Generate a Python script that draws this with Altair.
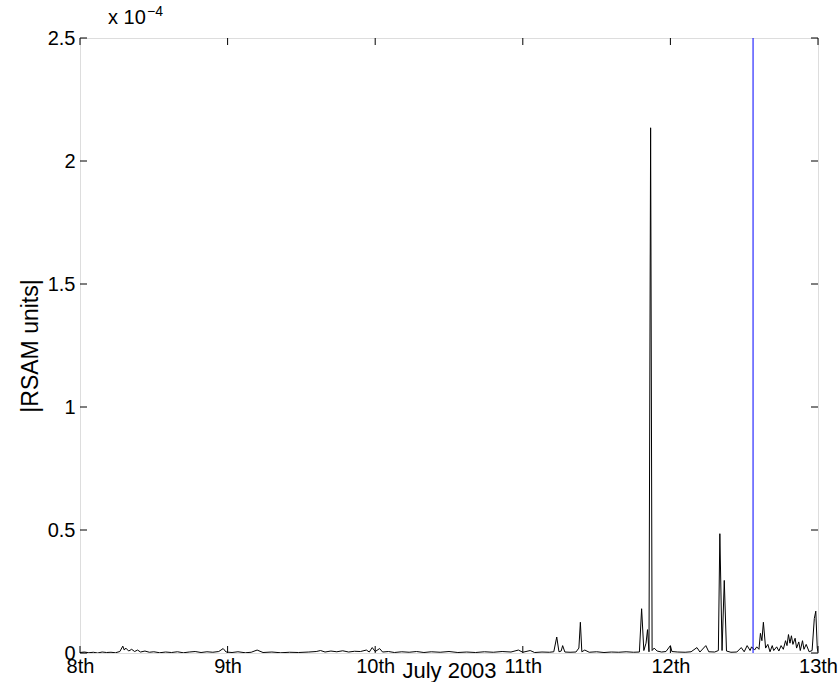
import altair as alt
import pandas as pd

# time in days of July 2003, RSAM in units of 1e-4
days = [8.00, 8.03, 8.06, 8.09, 8.12, 8.15, 8.18, 8.21, 8.24, 8.27, 8.29, 8.30, 8.31, 8.33, 8.35, 8.37,
        8.39, 8.41, 8.44, 8.47, 8.50, 8.54, 8.58, 8.62, 8.66, 8.70, 8.74, 8.78, 8.82, 8.86, 8.90, 8.94,
        8.97, 8.99, 9.03, 9.07, 9.12, 9.16, 9.20, 9.24, 9.30, 9.36, 9.42, 9.48, 9.55, 9.60, 9.63, 9.66,
        9.70, 9.74, 9.78, 9.82, 9.86, 9.90, 9.94, 9.96, 9.98, 10.00, 10.03, 10.05, 10.09, 10.13, 10.18,
        10.23, 10.28, 10.33, 10.38, 10.44, 10.50, 10.56, 10.62, 10.68, 10.74, 10.80, 10.86, 10.92, 10.97,
        11.00, 11.05, 11.08, 11.13, 11.18, 11.21, 11.23, 11.245, 11.26, 11.27, 11.285, 11.32, 11.36, 11.38,
        11.39, 11.40, 11.42, 11.45, 11.50, 11.55, 11.60, 11.65, 11.70, 11.75, 11.79, 11.805, 11.82, 11.835,
        11.845, 11.855, 11.866, 11.876, 11.89, 11.91, 11.94, 11.97, 12.00, 12.01, 12.05, 12.10, 12.14,
        12.18, 12.20, 12.24, 12.26, 12.30, 12.325, 12.335, 12.35, 12.365, 12.38, 12.41, 12.45, 12.48,
        12.50, 12.52, 12.54, 12.55, 12.57, 12.585, 12.60, 12.61, 12.62, 12.63, 12.645, 12.66, 12.675,
        12.69, 12.70, 12.72, 12.735, 12.75, 12.765, 12.78, 12.79, 12.80, 12.81, 12.82, 12.83, 12.845,
        12.855, 12.87, 12.88, 12.895, 12.905, 12.92, 12.94, 12.96, 12.975, 12.985, 12.995, 13.00]
rsam = [0.002, 0.004, 0.001, 0.003, 0.0, 0.004, 0.002, 0.003, 0.001, 0.006, 0.028, 0.012, 0.02, 0.008, 0.015, 0.006,
        0.012, 0.004, 0.008, 0.003, 0.005, 0.001, 0.004, 0.002, 0.005, 0.001, 0.004, 0.006, 0.002, 0.005, 0.003, 0.006,
        0.018, 0.004, 0.002, 0.005, 0.001, 0.003, 0.012, 0.002, 0.004, 0.001, 0.003, 0.002, 0.004, 0.006, 0.010, 0.004,
        0.008, 0.005, 0.009, 0.004, 0.007, 0.006, 0.012, 0.004, 0.022, 0.006, 0.018, 0.004, 0.006, 0.002, 0.005,
        0.003, 0.006, 0.002, 0.005, 0.003, 0.006, 0.002, 0.004, 0.002, 0.005, 0.003, 0.006, 0.004, 0.012,
        0.003, 0.010, 0.002, 0.004, 0.003, 0.005, 0.065, 0.005, 0.008, 0.030, 0.004, 0.003, 0.004, 0.020,
        0.125, 0.005, 0.012, 0.003, 0.005, 0.002, 0.004, 0.003, 0.005, 0.003, 0.004, 0.18, 0.01, 0.04,
        0.095, 0.005, 2.135, 0.01, 0.02, 0.008, 0.004, 0.006, 0.03, 0.006, 0.004, 0.003, 0.005,
        0.022, 0.004, 0.03, 0.005, 0.004, 0.01, 0.485, 0.01, 0.295, 0.008, 0.003, 0.004, 0.022,
        0.005, 0.03, 0.01, 0.025, 0.012, 0.025, 0.015, 0.08, 0.05, 0.125, 0.02, 0.035, 0.005,
        0.03, 0.01, 0.025, 0.008, 0.03, 0.015, 0.05, 0.03, 0.075, 0.04, 0.07, 0.035, 0.06,
        0.02, 0.045, 0.01, 0.05, 0.015, 0.035, 0.005, 0.01, 0.14, 0.17, 0.02, 0.005]

marker_day = [12.56]
x_ticks = [8, 9, 10, 11, 12, 13]
y_ticks = [0, 0.5, 1, 1.5, 2, 2.5]
exponent_text = ["x 10"]
exponent_sup = ["\u22124"]

W, H = 738, 615
FONT = "Liberation Sans"
FS = 20
TICK = 7

df = pd.DataFrame({"day": days, "rsam": rsam})
xs = alt.Scale(domain=[8, 13], nice=False, zero=False)
ys = alt.Scale(domain=[0, 2.5], nice=False)

line = alt.Chart(df).mark_line(color="black", strokeWidth=1, clip=True).encode(
    x=alt.X("day:Q", scale=xs,
            axis=alt.Axis(values=x_ticks, labelExpr="datum.value + 'th'", title="July 2003",
                          tickSize=0, domain=False, grid=False, labelPadding=3, labelFlush=False,
                          titleX=W / 2, titleY=24, titleBaseline="alphabetic", titleAlign="center",
                          labelFontSize=FS, titleFontSize=22, labelFont=FONT, titleFont=FONT,
                          labelColor="black", titleColor="black", titleFontWeight="normal")),
    y=alt.Y("rsam:Q", scale=ys,
            axis=alt.Axis(values=y_ticks, format="~g", title="|RSAM units|", tickSize=0, domain=False,
                          grid=False, labelPadding=5, labelFlush=False,
                          titleX=-50, titleY=H / 2, titleAngle=270, titleBaseline="middle",
                          titleAlign="center", labelFontSize=FS, titleFontSize=23,
                          labelFont=FONT, titleFont=FONT, labelColor="black", titleColor="black",
                          titleFontWeight="normal")),
)

vline = alt.Chart(pd.DataFrame({"d": marker_day})).mark_rule(color="#0000ff", strokeWidth=1).encode(
    x=alt.X("d:Q", scale=xs), y=alt.value(0), y2=alt.value(H))

xt = pd.DataFrame({"d": x_ticks})
yt = pd.DataFrame({"v": y_ticks})
tick_b = alt.Chart(xt).mark_rule(color="black").encode(x=alt.X("d:Q", scale=xs), y=alt.value(H), y2=alt.value(H - TICK))
tick_t = alt.Chart(xt).mark_rule(color="black").encode(x=alt.X("d:Q", scale=xs), y=alt.value(0), y2=alt.value(TICK))
tick_l = alt.Chart(yt).mark_rule(color="black").encode(y=alt.Y("v:Q", scale=ys), x=alt.value(0), x2=alt.value(TICK))
tick_r = alt.Chart(yt).mark_rule(color="black").encode(y=alt.Y("v:Q", scale=ys), x=alt.value(W), x2=alt.value(W - TICK))

exp_txt = alt.Chart(pd.DataFrame({"t": exponent_text})).mark_text(
    align="left", baseline="alphabetic", font=FONT, fontSize=FS, color="black").encode(
    text="t:N", x=alt.value(28), y=alt.value(-14))
exp_sup = alt.Chart(pd.DataFrame({"t": exponent_sup})).mark_text(
    align="left", baseline="alphabetic", font=FONT, fontSize=14, color="black").encode(
    text="t:N", x=alt.value(67), y=alt.value(-22))

chart = alt.layer(line, vline, tick_b, tick_t, tick_l, tick_r, exp_txt, exp_sup).properties(
    width=W, height=H, autosize="none",
    padding={"left": 80, "top": 38, "right": 22, "bottom": 29},
).configure_view(stroke="black", strokeWidth=1).configure(background="white")

chart.save("out.html", embed_options={"renderer": "svg", "actions": False})
